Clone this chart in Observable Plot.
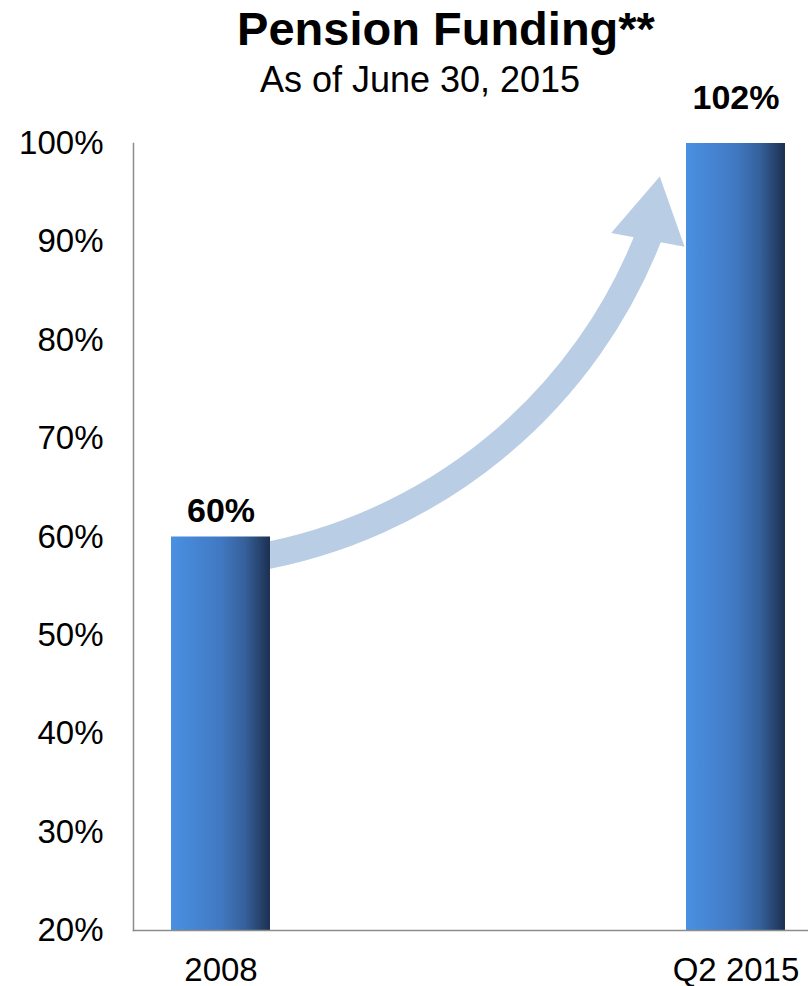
<!DOCTYPE html>
<html>
<head>
<meta charset="utf-8">
<script src="https://cdn.jsdelivr.net/npm/d3@7"></script>
<script src="https://cdn.jsdelivr.net/npm/@observablehq/plot@0.6"></script>
<style>
  html, body { margin: 0; padding: 0; background: #fff; overflow: hidden; }
  #wrap { position: relative; width: 808px; height: 986px; font-family: "Liberation Sans", Arial, sans-serif; color: #000; }
  #chart { position: absolute; left: 0; top: 0; }
  .hdr { position: absolute; width: 730px; text-align: center; white-space: nowrap; }
  #title { left: 81px; top: 5px; font-size: 47px; line-height: 47px; font-weight: bold; }
  #subtitle { left: 55px; top: 62px; font-size: 36px; line-height: 36px; }
</style>
</head>
<body>
<div id="wrap">
  <div id="chart"></div>
  <div id="title" class="hdr">Pension Funding**</div>
  <div id="subtitle" class="hdr">As of June 30, 2015</div>
</div>
<script>
// ---- data ----
const categories = ["2008", "Q2 2015"];
const values = [60, 102];
const yTicks = [20, 30, 40, 50, 60, 70, 80, 90, 100];
const yDomain = [20, 100];

// annotation arrow (data units: x = category index, y = percent)
const arrowPath = [{x1: 0.057, y1: 57.8, x2: 0.835, y2: 91.2}];
const arrowHead = [{x: 0.8366, y: 92.35, angle: 10.6}];

const barHalf = 0.0961;
const data = categories.map((c, i) => ({cat: c, pos: i, value: values[i]}));

const chart = Plot.plot({
  width: 808,
  height: 986,
  marginTop: 143,
  marginBottom: 56,
  marginLeft: 133,
  marginRight: 0,
  style: {fontFamily: "'Liberation Sans', Arial, sans-serif", color: "#000", background: "transparent", overflow: "visible"},
  x: {type: "linear", domain: [-0.1699, 1.1408]},
  y: {domain: yDomain},
  marks: [
    Plot.arrow(arrowPath, {
      x1: "x1", y1: "y1", x2: "x2", y2: "y2",
      bend: -30, headLength: 0,
      stroke: "#b9cde5", strokeWidth: 27, strokeLinecap: "butt"
    }),
    Plot.dot(arrowHead, {
      x: "x", y: "y", symbol: "triangle", r: 27.7, rotate: "angle",
      fill: "#b9cde5", stroke: "none"
    }),
    Plot.rect(data, {
      x1: d => d.pos - barHalf, x2: d => d.pos + barHalf,
      y1: yDomain[0], y2: "value",
      fill: "url(#barGrad)", clip: true
    }),
    Plot.frame({anchor: "left", stroke: "#8c8c8c", strokeWidth: 1.5}),
    Plot.frame({anchor: "bottom", stroke: "#8c8c8c", strokeWidth: 1.5}),
    Plot.axisY({ticks: yTicks, tickFormat: d => d + "%", tickSize: 0, tickPadding: 30, fontSize: 33, fill: "#000"}),
    Plot.axisX({ticks: [0, 1], tickFormat: i => categories[i], tickSize: 0, tickPadding: 27, fontSize: 33, fill: "#000"}),
    Plot.text(data, {
      x: "pos", y: "value", text: d => d.value + "%",
      dy: -15, lineAnchor: "bottom", fontWeight: "bold", fontSize: 34, fill: "#000"
    })
  ]
});

const svg = d3.select(chart);
const grad = svg.insert("defs", ":first-child")
  .append("linearGradient")
  .attr("id", "barGrad")
  .attr("x1", "0").attr("x2", "1").attr("y1", "0").attr("y2", "0");
[[0, "#4a90e2"], [0.5, "#4179c2"], [0.75, "#35609a"], [1, "#1c3050"]].forEach(([o, c]) => {
  grad.append("stop").attr("offset", o).attr("stop-color", c);
});

document.getElementById("chart").appendChild(chart);
</script>
</body>
</html>
